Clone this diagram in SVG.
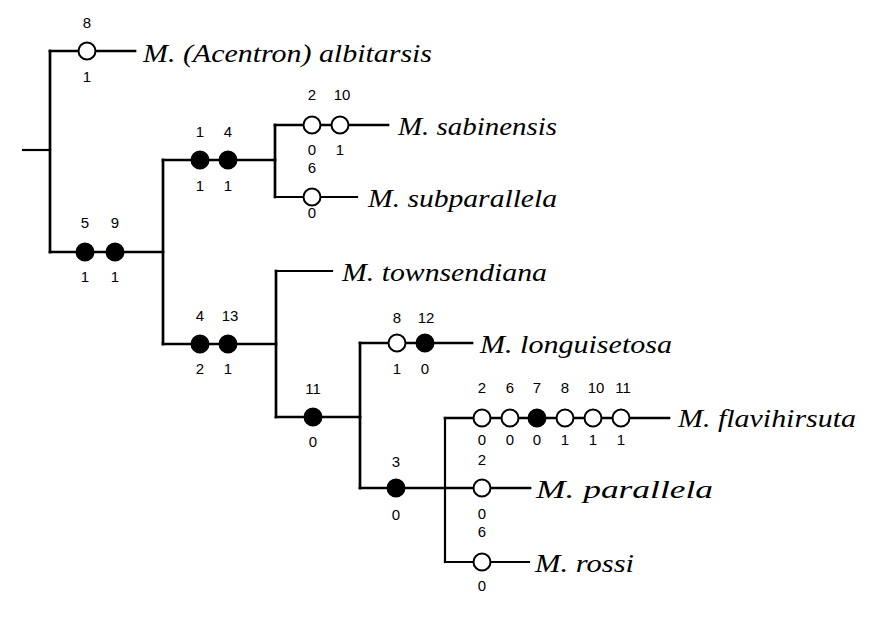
<svg xmlns="http://www.w3.org/2000/svg" width="895" height="632" viewBox="0 0 895 632">
<style>
.b{stroke:#000;stroke-width:2.7;fill:none;stroke-linecap:square}
.t{stroke-width:2.2}
.o{fill:#fff;stroke:#000;stroke-width:2}
.f{fill:#000;stroke:#000;stroke-width:2}
.n{font-family:"Liberation Sans",Arial,sans-serif;font-size:15px;text-anchor:middle;fill:#000}
.s{font-family:"Liberation Serif","Times New Roman",serif;font-style:italic;font-size:25px;fill:#000}
</style>
<rect width="895" height="632" fill="#fff"/>
<g id="connectors">
<path class="b t" d="M23,150H50"/>
<path class="b" d="M50,51V252"/>
<path class="b" d="M50,51H135"/>
<path class="b" d="M50,252H163"/>
<path class="b" d="M163,160V344"/>
<path class="b" d="M163,160H275"/>
<path class="b" d="M275,125V197"/>
<path class="b" d="M275,125H388"/>
<path class="b t" d="M275,197H357"/>
<path class="b" d="M163,344H276"/>
<path class="b" d="M276,271V417"/>
<path class="b t" d="M276,271H332"/>
<path class="b" d="M276,417H360"/>
<path class="b" d="M360,343V488"/>
<path class="b" d="M360,343H472"/>
<path class="b" d="M360,488H530"/>
<path class="b t" d="M445,418V562"/>
<path class="b" d="M445,418H669"/>
<path class="b t" d="M445,562H529"/>
</g>
<g id="n-albitarsis">
<circle class="o" cx="87" cy="51" r="8.5"/>
<text class="n" x="87" y="28">8</text><text class="n" x="87" y="82">1</text>
<text class="s" x="143" y="62" textLength="289" lengthAdjust="spacingAndGlyphs">M. (Acentron) albitarsis</text>
</g>
<g id="n-5-9">
<circle class="f" cx="85" cy="252" r="8.5"/><circle class="f" cx="115" cy="252" r="8.5"/>
<text class="n" x="85" y="228">5</text><text class="n" x="115" y="228">9</text>
<text class="n" x="85" y="282">1</text><text class="n" x="115" y="282">1</text>
</g>
<g id="n-1-4">
<circle class="f" cx="200" cy="160" r="8.5"/><circle class="f" cx="228" cy="160" r="8.5"/>
<text class="n" x="200" y="137">1</text><text class="n" x="228" y="137">4</text>
<text class="n" x="200" y="191">1</text><text class="n" x="228" y="191">1</text>
</g>
<g id="n-sabinensis">
<circle class="o" cx="312" cy="125" r="8.5"/><circle class="o" cx="340" cy="125" r="8.5"/>
<text class="n" x="312" y="100">2</text><text class="n" x="342" y="100">10</text>
<text class="n" x="312" y="155">0</text><text class="n" x="340" y="155">1</text>
<text class="s" x="398" y="135" textLength="159" lengthAdjust="spacingAndGlyphs">M. sabinensis</text>
</g>
<g id="n-subparallela">
<circle class="o" cx="312" cy="197" r="8.5"/>
<text class="n" x="312" y="173">6</text><text class="n" x="312" y="218">0</text>
<text class="s" x="368" y="207" textLength="189" lengthAdjust="spacingAndGlyphs">M. subparallela</text>
</g>
<g id="n-4-13">
<circle class="f" cx="200" cy="344" r="8.5"/><circle class="f" cx="228" cy="344" r="8.5"/>
<text class="n" x="200" y="321">4</text><text class="n" x="230" y="321">13</text>
<text class="n" x="200" y="374">2</text><text class="n" x="228" y="374">1</text>
</g>
<g id="n-townsendiana">
<text class="s" x="342" y="281" textLength="205" lengthAdjust="spacingAndGlyphs">M. townsendiana</text>
</g>
<g id="n-11">
<circle class="f" cx="313" cy="417" r="8.5"/>
<text class="n" x="313" y="394">11</text><text class="n" x="313" y="447">0</text>
</g>
<g id="n-longuisetosa">
<circle class="o" cx="397" cy="343" r="8.5"/><circle class="f" cx="425" cy="343" r="8.5"/>
<text class="n" x="397" y="323">8</text><text class="n" x="426" y="323">12</text>
<text class="n" x="397" y="374">1</text><text class="n" x="425" y="374">0</text>
<text class="s" x="480" y="353" textLength="192" lengthAdjust="spacingAndGlyphs">M. longuisetosa</text>
</g>
<g id="n-3">
<circle class="f" cx="396" cy="488" r="8.5"/>
<text class="n" x="396" y="467">3</text><text class="n" x="396" y="520">0</text>
</g>
<g id="n-flavihirsuta">
<circle class="o" cx="482" cy="418" r="8.5"/><circle class="o" cx="510" cy="418" r="8.5"/>
<circle class="f" cx="537" cy="418" r="8.5"/><circle class="o" cx="565" cy="418" r="8.5"/>
<circle class="o" cx="593" cy="418" r="8.5"/><circle class="o" cx="621" cy="418" r="8.5"/>
<text class="n" x="482" y="393">2</text><text class="n" x="510" y="393">6</text><text class="n" x="537" y="393">7</text>
<text class="n" x="565" y="393">8</text><text class="n" x="596" y="393">10</text><text class="n" x="623" y="393">11</text>
<text class="n" x="482" y="445">0</text><text class="n" x="510" y="445">0</text><text class="n" x="537" y="445">0</text>
<text class="n" x="565" y="445">1</text><text class="n" x="593" y="445">1</text><text class="n" x="621" y="445">1</text>
<text class="s" x="678" y="427" textLength="178" lengthAdjust="spacingAndGlyphs">M. flavihirsuta</text>
</g>
<g id="n-parallela">
<circle class="o" cx="482" cy="488" r="8.5"/>
<text class="n" x="482" y="465">2</text><text class="n" x="482" y="519">0</text>
<text class="s" x="536" y="498" textLength="177" lengthAdjust="spacingAndGlyphs">M. parallela</text>
</g>
<g id="n-rossi">
<circle class="o" cx="482" cy="562" r="8.5"/>
<text class="n" x="482" y="537">6</text><text class="n" x="482" y="591">0</text>
<text class="s" x="535" y="572" textLength="99" lengthAdjust="spacingAndGlyphs">M. rossi</text>
</g>
</svg>
